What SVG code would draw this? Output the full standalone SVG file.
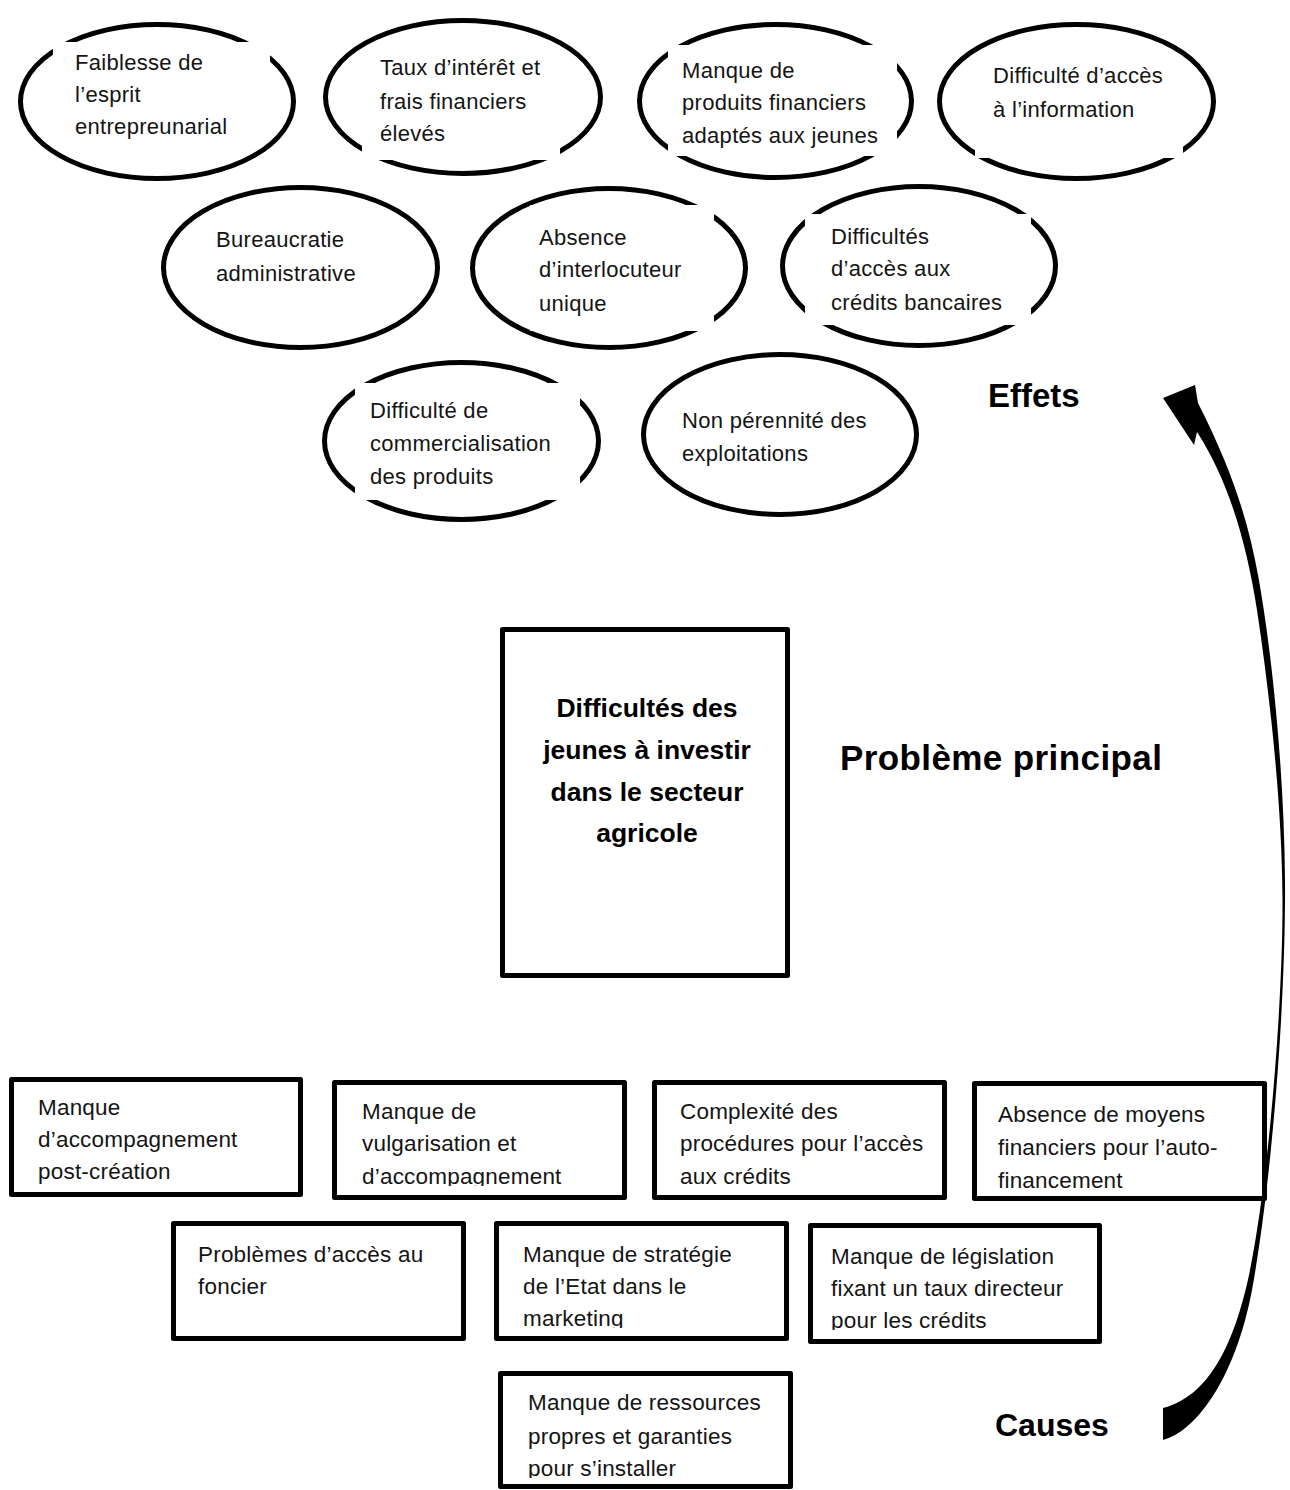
<svg xmlns="http://www.w3.org/2000/svg" width="1290" height="1490" viewBox="0 0 1290 1490">
  <style>
    .oval { fill: #fff; stroke: #000; stroke-width: 5; }
    .frame { fill: #fff; stroke: none; }
    .box { fill: #fff; stroke: #000; stroke-width: 5; stroke-linejoin: round; }
    .t { font-family: "Liberation Sans", Arial, sans-serif; font-size: 22px; letter-spacing: 0.3px; fill: #141414; }
    .tb { font-family: "Liberation Sans", Arial, sans-serif; font-size: 22.5px; letter-spacing: 0.2px; fill: #141414; }
    .main { font-family: "Liberation Sans", Arial, sans-serif; font-size: 26.5px; font-weight: bold; fill: #000; text-anchor: middle; }
    .head { font-family: "Liberation Sans", Arial, sans-serif; font-weight: bold; fill: #000; }
  </style>
  <defs>
    <clipPath id="clip-b2" clipPathUnits="userSpaceOnUse"><rect x="337" y="1085" width="285" height="101"/></clipPath>
    <clipPath id="clip-b6" clipPathUnits="userSpaceOnUse"><rect x="499" y="1226" width="285" height="102"/></clipPath>
    <clipPath id="clip-b7" clipPathUnits="userSpaceOnUse"><rect x="813" y="1228" width="284" height="102"/></clipPath>
    <clipPath id="clip-b8" clipPathUnits="userSpaceOnUse"><rect x="503" y="1376" width="285" height="102"/></clipPath>
  </defs>
  <rect width="1290" height="1490" fill="#fff"/>

  <!-- Effects: ovals, each with a white text frame that breaks the outline -->
  <g id="effet-esprit">
    <ellipse class="oval" cx="157" cy="101.5" rx="136.5" ry="77"/>
    <rect class="frame" x="53" y="42" width="217" height="95"/>
    <text class="t" x="75" y="70">Faiblesse de</text>
    <text class="t" x="75" y="102">l’esprit</text>
    <text class="t" x="75" y="134">entrepreunarial</text>
  </g>
  <g id="effet-taux">
    <ellipse class="oval" cx="463" cy="97" rx="137.5" ry="76.5"/>
    <rect class="frame" x="362" y="54" width="198" height="106"/>
    <text class="t" x="380" y="75">Taux d’intérêt et</text>
    <text class="t" x="380" y="109">frais financiers</text>
    <text class="t" x="380" y="141">élevés</text>
  </g>
  <g id="effet-produits">
    <ellipse class="oval" cx="775.5" cy="101" rx="136" ry="76.5"/>
    <rect class="frame" x="668" y="45" width="229" height="111"/>
    <text class="t" x="682" y="78">Manque de</text>
    <text class="t" x="682" y="110">produits financiers</text>
    <text class="t" x="682" y="143">adaptés aux jeunes</text>
  </g>
  <g id="effet-information">
    <ellipse class="oval" cx="1076.5" cy="101.5" rx="137" ry="77"/>
    <rect class="frame" x="975" y="56" width="208" height="102"/>
    <text class="t" x="993" y="83">Difficulté d’accès</text>
    <text class="t" x="993" y="117">à l’information</text>
  </g>
  <g id="effet-bureaucratie">
    <ellipse class="oval" cx="300.5" cy="267.5" rx="137" ry="80"/>
    <text class="t" x="216" y="247">Bureaucratie</text>
    <text class="t" x="216" y="281">administrative</text>
  </g>
  <g id="effet-interlocuteur">
    <ellipse class="oval" cx="609" cy="268" rx="136.5" ry="79.5"/>
    <rect class="frame" x="530" y="205" width="184" height="126"/>
    <text class="t" x="539" y="245">Absence</text>
    <text class="t" x="539" y="277">d’interlocuteur</text>
    <text class="t" x="539" y="311">unique</text>
  </g>
  <g id="effet-credits">
    <ellipse class="oval" cx="919" cy="266" rx="136.5" ry="79.5"/>
    <rect class="frame" x="805" y="214" width="226" height="111"/>
    <text class="t" x="831" y="244">Difficultés</text>
    <text class="t" x="831" y="276">d’accès aux</text>
    <text class="t" x="831" y="310">crédits bancaires</text>
  </g>
  <g id="effet-commercialisation">
    <ellipse class="oval" cx="461.5" cy="441" rx="137" ry="78.5"/>
    <rect class="frame" x="355" y="383" width="225" height="117"/>
    <text class="t" x="370" y="418">Difficulté de</text>
    <text class="t" x="370" y="451">commercialisation</text>
    <text class="t" x="370" y="484">des produits</text>
  </g>
  <g id="effet-perennite">
    <ellipse class="oval" cx="780" cy="434.5" rx="136.5" ry="80"/>
    <text class="t" x="682" y="428">Non pérennité des</text>
    <text class="t" x="682" y="461">exploitations</text>
  </g>

  <!-- Central problem -->
  <g id="probleme">
    <rect class="box" x="502.5" y="629.5" width="285" height="346"/>
    <text class="main" x="647" y="717">Difficultés des</text>
    <text class="main" x="647" y="759">jeunes à investir</text>
    <text class="main" x="647" y="801">dans le secteur</text>
    <text class="main" x="647" y="842">agricole</text>
  </g>

  <!-- Causes -->
  <g id="cause-accompagnement">
    <rect class="box" x="11.5" y="1079.5" width="289" height="115"/>
    <text class="tb" x="38" y="1115">Manque</text>
    <text class="tb" x="38" y="1147">d’accompagnement</text>
    <text class="tb" x="38" y="1179">post-création</text>
  </g>
  <g id="cause-vulgarisation">
    <rect class="box" x="334.5" y="1082.5" width="290" height="115"/>
    <g clip-path="url(#clip-b2)">
      <text class="tb" x="362" y="1119">Manque de</text>
      <text class="tb" x="362" y="1151">vulgarisation et</text>
      <text class="tb" x="362" y="1184">d’accompagnement</text>
    </g>
  </g>
  <g id="cause-procedures">
    <rect class="box" x="654.5" y="1082.5" width="290" height="115"/>
    <text class="tb" x="680" y="1119">Complexité des</text>
    <text class="tb" x="680" y="1151">procédures pour l’accès</text>
    <text class="tb" x="680" y="1184">aux crédits</text>
  </g>
  <g id="cause-autofinancement">
    <rect class="box" x="974.5" y="1083.5" width="290" height="115"/>
    <text class="tb" x="998" y="1122">Absence de moyens</text>
    <text class="tb" x="998" y="1155">financiers pour l’auto-</text>
    <text class="tb" x="998" y="1188">financement</text>
  </g>
  <g id="cause-foncier">
    <rect class="box" x="173.5" y="1223.5" width="290" height="115"/>
    <text class="tb" x="198" y="1262">Problèmes d’accès au</text>
    <text class="tb" x="198" y="1294">foncier</text>
  </g>
  <g id="cause-strategie">
    <rect class="box" x="496.5" y="1223.5" width="290" height="115"/>
    <g clip-path="url(#clip-b6)">
      <text class="tb" x="523" y="1262">Manque de stratégie</text>
      <text class="tb" x="523" y="1294">de l’Etat dans le</text>
      <text class="tb" x="523" y="1326">marketing</text>
    </g>
  </g>
  <g id="cause-legislation">
    <rect class="box" x="810.5" y="1225.5" width="289" height="116"/>
    <g clip-path="url(#clip-b7)">
      <text class="tb" x="831" y="1264">Manque de législation</text>
      <text class="tb" x="831" y="1296">fixant un taux directeur</text>
      <text class="tb" x="831" y="1328">pour les crédits</text>
    </g>
  </g>
  <g id="cause-ressources">
    <rect class="box" x="500.5" y="1373.5" width="290" height="113"/>
    <g clip-path="url(#clip-b8)">
      <text class="tb" x="528" y="1410">Manque de ressources</text>
      <text class="tb" x="528" y="1444">propres et garanties</text>
      <text class="tb" x="528" y="1476">pour s’installer</text>
    </g>
  </g>

  <!-- Section headings -->
  <g id="titres">
    <text class="head" x="988" y="407" font-size="33">Effets</text>
    <text class="head" x="840" y="770" font-size="35" letter-spacing="0.4">Problème principal</text>
    <text class="head" x="995" y="1436" font-size="32">Causes</text>
  </g>

  <!-- Connector: tapered curved arrow from causes up to effects -->
  <g id="connecteurs">
    <path fill="#000" d="M1163,1440 C1195,1432 1235,1380 1252,1290 C1272,1180 1286,1000 1285,880 C1284,760 1270,640 1258,575 C1248,520 1232,470 1198,403 L1195,385 L1163,398 L1194,445 L1197,432 C1228,480 1246,540 1257,610 C1269,690 1282,800 1282.5,900 C1283,1000 1269,1180 1249,1275 C1237,1330 1215,1395 1163,1408 Z"/>
  </g>
</svg>
